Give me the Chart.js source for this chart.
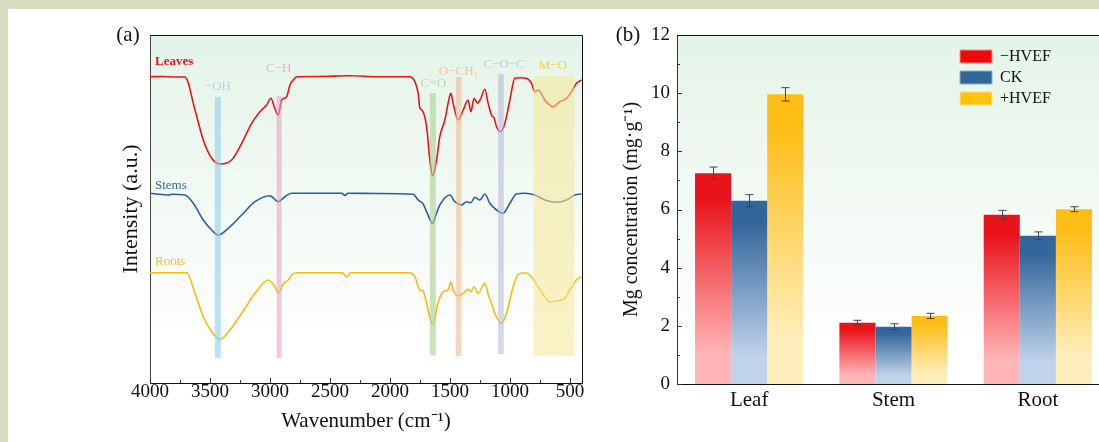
<!DOCTYPE html>
<html>
<head>
<meta charset="utf-8">
<script src="https://cdn.jsdelivr.net/npm/chart.js@4.4.1/dist/chart.umd.min.js"></script>
<style>
  html, body { margin: 0; padding: 0; width: 1099px; height: 442px; overflow: hidden; background: #d6dcbd; }
  #sheet { position: absolute; left: 8px; top: 9px; width: 1091px; height: 433px; background: #fff; }
  #ftir { position: absolute; left: 0; top: 0; }
  #mg { position: absolute; left: 600px; top: 0; }
</style>
</head>
<body>
<div id="sheet"></div>
<canvas id="ftir" width="600" height="442"></canvas>
<canvas id="mg" width="520" height="442"></canvas>
<script>
// ---- (a) FTIR spectra (wavenumber, intensity a.u.) ----
const leavesWn = [4000, 3900, 3800, 3709, 3625, 3556, 3486, 3417, 3320, 3236, 3153, 3084, 3028, 2992, 2965, 2931, 2903, 2861, 2834, 2792, 2778, 2600, 2334, 2100, 1834, 1793, 1765, 1751, 1734, 1695, 1668, 1645, 1612, 1585, 1543, 1510, 1493, 1474, 1432, 1390, 1349, 1326, 1299, 1271, 1243, 1210, 1182, 1154, 1132, 1112, 1077, 1043, 1001, 960, 918, 863, 821, 793, 766, 710, 641, 585, 529, 488, 446, 404];
const leavesInt = [306.3, 306.5, 306, 306, 273, 243, 224.7, 219, 223, 239.7, 259.7, 271.3, 278, 284.7, 276.3, 268, 283, 286.3, 298, 304.7, 306.3, 306.5, 307.3, 306.3, 306.3, 301.3, 289.7, 274.7, 273, 256.3, 223, 207, 223, 246.3, 263, 283, 289.7, 279.7, 263, 273, 283, 271.3, 284.7, 279.7, 284.7, 293.7, 279.7, 268, 264.7, 256.3, 251.3, 259.7, 283, 304.7, 305.3, 304.7, 299.7, 291.3, 293, 283, 276.3, 281.3, 284.7, 291.3, 299.7, 303];

const stemsWn = [4000, 3950, 3850, 3820, 3709, 3639, 3556, 3486, 3431, 3348, 3236, 3125, 3000, 2931, 2876, 2820, 2600, 2400, 2376, 2350, 2100, 1807, 1765, 1724, 1695, 1645, 1612, 1585, 1501, 1460, 1404, 1362, 1326, 1293, 1251, 1210, 1168, 1112, 1057, 1001, 946, 877, 793, 710, 613, 529, 460, 404];
const stemsInt = [189.7, 189, 188, 188.7, 188, 179.7, 163, 153, 148, 154.7, 168, 181.3, 187.3, 181.3, 186.3, 189.7, 189.7, 189.7, 187.5, 189.7, 189.5, 188.7, 183, 179, 171.3, 159.7, 170, 178, 188, 181.3, 178, 181.3, 180.3, 185.7, 183, 189, 179.7, 173, 169.7, 179.7, 189, 189.7, 188, 183, 180.7, 183, 188, 189];

const rootsWn = [4000, 3694, 3625, 3556, 3486, 3417, 3334, 3236, 3125, 3014, 2959, 2931, 2890, 2848, 2820, 2780, 2400, 2362, 2330, 1834, 1793, 1751, 1724, 1695, 1645, 1600, 1557, 1515, 1493, 1474, 1432, 1390, 1349, 1326, 1299, 1265, 1210, 1176, 1154, 1126, 1071, 1029, 974, 932, 877, 821, 766, 710, 668, 599, 543, 502, 446, 404];
const rootsInt = [110.3, 110.3, 89.7, 66.3, 51.3, 43.7, 53, 69.7, 89.7, 103, 96.3, 89.7, 99, 103, 108, 110.3, 110.3, 106.3, 110.3, 110.3, 106.3, 93, 92, 79.7, 58, 80, 91.3, 93, 101.3, 93, 87, 89.7, 93.7, 91.3, 96.3, 89.7, 99.7, 86.3, 79.7, 69.7, 59.7, 69.7, 96.3, 108.7, 110.3, 106.3, 96.3, 86.3, 81.3, 82.3, 84.7, 93, 103, 106.3];

const seriesNames = ['Leaves', 'Stems', 'Roots'];
const seriesLabelInt = [321, 197, 121];

// assignment bands (wavenumber range, intensity extent) and their labels
const bandNames = ['−OH', 'C−H', 'C=O', 'O−CH₃', 'C−O−C', 'M−O'];
const bandFrom = [3460, 2945, 1668, 1451, 1099, 804];
const bandTo = [3410, 2903, 1618, 1404, 1052, 464];
const bandTop = [286, 287, 290, 306, 309, 307];
const bandBottom = [25, 25, 27.5, 27, 29, 27];
const bandLabelWn = [3434, 2928, 1639, 1430, 1051, 644];
const bandLabelInt = [296, 314, 299, 311, 318, 317];

// ---- (b) Mg concentration ----
const organs = ['Leaf', 'Stem', 'Root'];
const treatments = ['−HVEF', 'CK', '+HVEF'];
const mgMinus = [7.25, 2.11, 5.82];
const mgCK = [6.30, 1.97, 5.10];
const mgPlus = [9.96, 2.34, 6.01];
const errMinus = [0.21, 0.08, 0.15];
const errCK = [0.21, 0.10, 0.13];
const errPlus = [0.23, 0.09, 0.085];

Chart.defaults.font.family = '"Liberation Serif", "Times New Roman", serif';
Chart.defaults.color = '#111';

const pts = (xs, ys) => xs.map((x, i) => ({ x: x, y: ys[i] }));

// light mint wash behind both plot areas
const plotBackground = {
    id: 'plotBackground',
    beforeDraw(chart) {
        const { ctx, chartArea: a } = chart;
        const g = ctx.createLinearGradient(0, a.top, 0, a.bottom);
        g.addColorStop(0, '#e4f4e8');
        g.addColorStop(0.9, '#ffffff');
        ctx.save();
        ctx.fillStyle = g;
        ctx.fillRect(a.left, a.top, a.right - a.left, a.bottom - a.top);
        ctx.restore();
    }
};

// top + right edges of the frame
const frame = {
    id: 'frame',
    afterDraw(chart) {
        const { ctx, chartArea: a } = chart;
        ctx.save();
        ctx.strokeStyle = '#111';
        ctx.lineWidth = 1;
        ctx.beginPath();
        ctx.moveTo(a.left, a.top + 0.5);
        ctx.lineTo(a.right + 0.5, a.top + 0.5);
        ctx.lineTo(a.right + 0.5, a.bottom);
        ctx.stroke();
        ctx.restore();
    }
};

// ticks pointing into the plot
const innerTicks = {
    id: 'innerTicks',
    afterDraw(chart, args, opts) {
        const { ctx, chartArea: a } = chart;
        const scale = chart.scales[opts.axis];
        ctx.save();
        ctx.strokeStyle = '#333';
        ctx.lineWidth = 1;
        scale.ticks.forEach(t => {
            const p = Math.round(scale.getPixelForValue(t.value)) + 0.5;
            const len = t.label !== '' ? opts.major : opts.minor;
            ctx.beginPath();
            if (opts.axis === 'x') {
                ctx.moveTo(p, a.bottom);
                ctx.lineTo(p, a.bottom - len);
            } else {
                ctx.moveTo(a.left, p);
                ctx.lineTo(a.left + len, p);
            }
            ctx.stroke();
        });
        ctx.restore();
    }
};

const panelLetter = {
    id: 'panelLetter',
    afterDraw(chart, args, opts) {
        const ctx = chart.ctx;
        ctx.save();
        ctx.font = '21px "Liberation Serif", serif';
        ctx.fillStyle = '#111';
        ctx.textAlign = 'center';
        ctx.textBaseline = 'middle';
        ctx.fillText(opts.text, opts.x, opts.y);
        ctx.restore();
    }
};

const bandFill = ['rgba(140, 208, 240, 0.6)', 'rgba(228, 160, 195, 0.55)', 'rgba(168, 208, 148, 0.6)',
                  'rgba(240, 190, 150, 0.6)', 'rgba(185, 186, 220, 0.6)', 'rgba(245, 232, 150, 0.55)'];
const bandText = ['#a8d8ee', '#eab3cb', '#b6d8a6', '#f2c3a3', '#c3c6e0', '#f0d24a'];

const bands = {
    id: 'bands',
    afterDatasetsDraw(chart) {
        const { ctx, scales: { x, y } } = chart;
        ctx.save();
        bandNames.forEach((name, i) => {
            const x0 = x.getPixelForValue(bandFrom[i]);
            const x1 = x.getPixelForValue(bandTo[i]);
            const y0 = y.getPixelForValue(bandTop[i]);
            const y1 = y.getPixelForValue(bandBottom[i]);
            ctx.fillStyle = bandFill[i];
            ctx.fillRect(x0, y0, x1 - x0, y1 - y0);
            ctx.fillStyle = bandText[i];
            ctx.font = '13px "Liberation Serif", serif';
            ctx.textAlign = 'center';
            ctx.textBaseline = 'middle';
            ctx.fillText(name, x.getPixelForValue(bandLabelWn[i]), y.getPixelForValue(bandLabelInt[i]));
        });
        ctx.restore();
    }
};

const seriesTags = {
    id: 'seriesTags',
    afterDatasetsDraw(chart) {
        const { ctx, chartArea: a, scales: { y } } = chart;
        ctx.save();
        ctx.textAlign = 'left';
        ctx.textBaseline = 'middle';
        chart.data.datasets.forEach((ds, i) => {
            ctx.font = (i === 0 ? 'bold ' : '') + '13px "Liberation Serif", serif';
            ctx.fillStyle = ds.tagColor;
            ctx.fillText(seriesNames[i], a.left + 5, y.getPixelForValue(seriesLabelInt[i]));
        });
        ctx.restore();
    }
};

new Chart(document.getElementById('ftir'), {
    type: 'line',
    data: {
        datasets: [
            { label: seriesNames[0], data: pts(leavesWn, leavesInt), borderColor: '#e8141c', tagColor: '#e8141c' },
            { label: seriesNames[1], data: pts(stemsWn, stemsInt), borderColor: '#2f5e98', tagColor: '#3d6aa3' },
            { label: seriesNames[2], data: pts(rootsWn, rootsInt), borderColor: '#f6bb12', tagColor: '#f5be22' }
        ]
    },
    options: {
        responsive: false,
        animation: false,
        layout: { padding: { left: 0, top: 35, right: 18, bottom: 0 } },
        elements: {
            point: { radius: 0 },
            line: { borderWidth: 1.6, cubicInterpolationMode: 'monotone', fill: false }
        },
        plugins: {
            legend: { display: false },
            tooltip: { enabled: false },
            innerTicks: { axis: 'x', major: 5, minor: 3 },
            panelLetter: { text: '(a)', x: 128, y: 35 }
        },
        scales: {
            x: {
                type: 'linear',
                min: 400,
                max: 4000,
                reverse: true,
                grid: { display: false, drawTicks: false },
                border: { color: '#111', width: 1 },
                ticks: {
                    stepSize: 250,
                    includeBounds: false,
                    autoSkip: false,
                    maxRotation: 0,
                    padding: 0,
                    color: '#111',
                    font: { size: 19, lineHeight: 1 },
                    callback: v => v % 500 === 0 ? String(v) : ''
                },
                title: { display: true, text: 'Wavenumber (cm⁻¹)', color: '#111', font: { size: 21 }, padding: { top: 0, bottom: 8 } },
                afterFit: s => { s.height = 59; }
            },
            y: {
                min: 0,
                max: 348,
                grid: { display: false, drawTicks: false },
                border: { color: '#444', width: 1 },
                ticks: { display: false },
                title: { display: true, text: 'Intensity (a.u.)', color: '#111', font: { size: 22 }, padding: { top: 118, bottom: 0 } },
                afterFit: s => { s.width = 150; }
            }
        }
    },
    plugins: [plotBackground, bands, seriesTags, innerTicks, frame, panelLetter]
});

// vertical fade from the full colour at the bar top to a pale tint at the base
function barFill(full, pale) {
    return (c) => {
        const chart = c.chart;
        if (c.type !== 'data' || !chart.chartArea) return full;
        const y = chart.scales.y;
        const top = y.getPixelForValue(c.raw);
        const base = y.getPixelForValue(0);
        const g = chart.ctx.createLinearGradient(0, top, 0, base);
        g.addColorStop(0, full);
        g.addColorStop(0.12, full);
        g.addColorStop(0.85, pale);
        g.addColorStop(1, pale);
        return g;
    };
}

const legendFill = ['#ee0a0a', '#336699', '#ffc20e'];
const legendEdge = ['#f88', '#8fb0d0', '#ffe080'];

const errorBars = {
    id: 'errorBars',
    afterDatasetsDraw(chart) {
        const { ctx, scales: { y } } = chart;
        ctx.save();
        ctx.strokeStyle = '#444';
        ctx.lineWidth = 1;
        chart.data.datasets.forEach((ds, i) => {
            chart.getDatasetMeta(i).data.forEach((bar, j) => {
                const hi = y.getPixelForValue(ds.data[j] + ds.errors[j]);
                const lo = y.getPixelForValue(ds.data[j] - ds.errors[j]);
                const x = Math.round(bar.x) + 0.5;
                ctx.beginPath();
                ctx.moveTo(x, hi); ctx.lineTo(x, lo);
                ctx.moveTo(x - 4, hi); ctx.lineTo(x + 4, hi);
                ctx.moveTo(x - 4, lo); ctx.lineTo(x + 4, lo);
                ctx.stroke();
            });
        });
        ctx.restore();
    }
};

// park the legend in the upper right of the plot
const legendSpot = {
    id: 'legendSpot',
    afterLayout(chart) {
        const l = chart.legend;
        l.left = 355;
        l.top = 43.5;
        l.right = l.left + l.width;
        l.bottom = l.top + l.height;
    }
};

new Chart(document.getElementById('mg'), {
    type: 'bar',
    data: {
        labels: organs,
        datasets: [
            { label: treatments[0], data: mgMinus, errors: errMinus, backgroundColor: barFill('#e9141b', '#ffb4b6') },
            { label: treatments[1], data: mgCK, errors: errCK, backgroundColor: barFill('#33669c', '#bfd3ea') },
            { label: treatments[2], data: mgPlus, errors: errPlus, backgroundColor: barFill('#fdbd17', '#ffefbd') }
        ]
    },
    options: {
        responsive: false,
        animation: false,
        layout: { padding: { left: 0, top: 35, right: 10, bottom: 0 } },
        datasets: { bar: { categoryPercentage: 0.75, barPercentage: 1 } },
        plugins: {
            tooltip: { enabled: false },
            legend: {
                position: 'chartArea',
                align: 'start',
                labels: {
                    boxWidth: 32,
                    boxHeight: 13,
                    padding: 5,
                    font: { size: 16 },
                    generateLabels: chart => chart.data.datasets.map((d, i) => ({
                        text: d.label,
                        fillStyle: legendFill[i],
                        strokeStyle: legendEdge[i],
                        lineWidth: 1,
                        fontColor: '#111',
                        hidden: false,
                        datasetIndex: i
                    }))
                }
            },
            innerTicks: { axis: 'y', major: 5, minor: 3 },
            panelLetter: { text: '(b)', x: 28, y: 35 }
        },
        scales: {
            x: {
                grid: { display: false, drawTicks: false },
                border: { color: '#111', width: 1 },
                ticks: { padding: 6, color: '#111', font: { size: 21, lineHeight: 1 } },
                afterFit: s => { s.height = 58; }
            },
            y: {
                min: 0,
                max: 12,
                grid: { display: false, drawTicks: false },
                border: { color: '#333', width: 1 },
                ticks: {
                    stepSize: 1,
                    autoSkip: false,
                    padding: 7,
                    color: '#111',
                    font: { size: 19 },
                    callback: v => v % 2 === 0 ? String(v) : ''
                },
                title: { display: true, text: 'Mg concentration (mg·g⁻¹)', color: '#111', font: { size: 20 }, padding: { top: 20, bottom: 0 } },
                afterFit: s => { s.width = 77; }
            }
        }
    },
    plugins: [plotBackground, errorBars, innerTicks, frame, panelLetter, legendSpot]
});
</script>
</body>
</html>
